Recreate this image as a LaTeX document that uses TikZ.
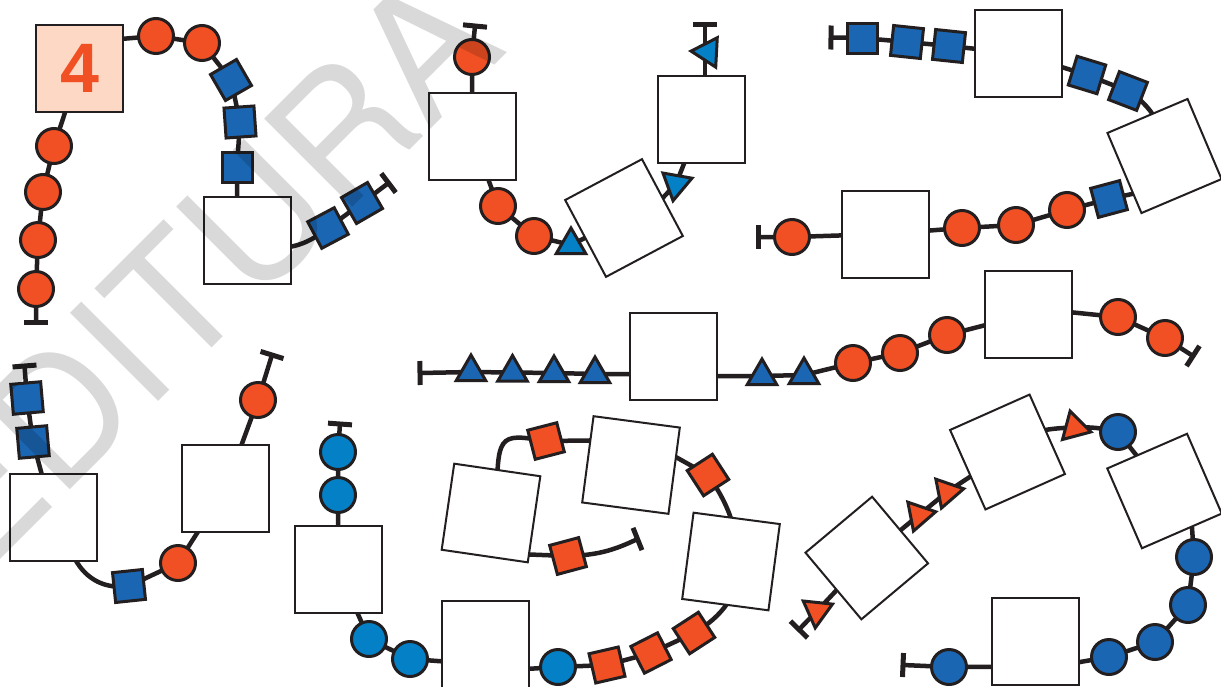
\documentclass[tikz,border=0pt]{standalone}
\usepackage{fontspec}
\newfontfamily\wmfont{TeX Gyre Heros}
\newfontfamily\numfont{Liberation Sans}
\usetikzlibrary{shapes.geometric,calc}
\pgfdeclarelayer{back}
\pgfdeclarelayer{bg}
\pgfsetlayers{back,bg,main}
\definecolor{ink}{HTML}{231F20}
\definecolor{orng}{HTML}{F05023}
\definecolor{blu}{HTML}{1A66B2}
\definecolor{lblu}{HTML}{0480C6}
\definecolor{peach}{HTML}{FDD9C5}
\tikzset{
 conn/.style={draw=ink, line width=4.5pt},
 capb/.style={draw=ink, line width=5pt},
 wbox/.style={rectangle, draw=ink, fill=white, line width=2pt, minimum size=87pt, inner sep=0pt},
 gcirc/.style={circle, draw=ink, line width=3pt, minimum size=35pt, inner sep=0pt},
 orcirc/.style={gcirc, fill=orng},
 blcirc/.style={gcirc, fill=blu},
 lbcirc/.style={gcirc, fill=lblu},
 gsq/.style={rectangle, draw=ink, line width=3pt, minimum size=30pt, inner sep=0pt},
 blsq/.style={gsq, fill=blu},
 orsq/.style={gsq, fill=orng},
 gtri/.style={regular polygon, regular polygon sides=3, draw=ink, line width=3pt, minimum size=34pt, inner sep=0pt},
 bltri/.style={gtri, fill=blu},
 lbtri/.style={gtri, fill=lblu},
 ortri/.style={gtri, fill=orng},
}
\newcommand\mkcap[2]{\draw[capb] ($(#1)!12pt!90:#2$) -- ($(#1)!12pt!-90:#2$);}
\begin{document}
\begin{tikzpicture}[x=1pt,y=-1pt]
\useasboundingbox (0,0) rectangle (1221,686);
\begin{pgfonlayer}{back}
\fill[white] (0,0) rectangle (1221,686);
\end{pgfonlayer}
% ---------- top left
\node[wbox, fill=peach, text=orng, font=\numfont\bfseries\fontsize{70}{70}\selectfont] (box4) at (79.5,68.5) {4};
\node[orcirc] (c1) at (156,36) {};
\node[orcirc] (c2) at (202,43) {};
\node[blsq, rotate=30] (bs1) at (231,80) {};
\node[blsq, rotate=4] (bs2) at (240,122) {};
\node[blsq] (bs3) at (237,167) {};
\node[wbox] (bxA) at (247.5,240.5) {};
\node[blsq, rotate=28] (bs4) at (328,228) {};
\node[blsq, rotate=30] (bs5) at (362,203) {};
\coordinate (k1) at (388.5,183);
\node[orcirc] (c3) at (54,146) {};
\node[orcirc] (c4) at (43,192) {};
\node[orcirc] (c5) at (38,240) {};
\node[orcirc] (c6) at (36,289) {};
\coordinate (k2) at (36,322);
% ---------- top middle
\coordinate (k3) at (475,26);
\node[orcirc] (c7) at (472,57) {};
\node[wbox] (bxB) at (472.5,136) {};
\node[orcirc] (c8) at (498,206) {};
\node[orcirc] (c9) at (534,236) {};
\node[lbtri] (lt1) at (571,245) {};
\node[wbox, rotate=28] (rbA) at (624,218) {};
\node[lbtri, rotate=50] (lt2) at (676,184) {};
\node[wbox] (bxC) at (701.5,119) {};
\node[lbtri, rotate=87] (lt3) at (708,52) {};
\coordinate (k4) at (705,24);
% ---------- top right
\coordinate (k5) at (831,37.5);
\node[blsq] (s6) at (862,38) {};
\node[blsq, rotate=-6] (s7) at (907,42) {};
\node[blsq, rotate=-6] (s8) at (949,46) {};
\node[wbox] (bxD) at (1018.5,53.5) {};
\node[blsq, rotate=-17] (s9) at (1087,75) {};
\node[blsq, rotate=-21] (s10) at (1128,91) {};
\node[wbox, rotate=23] (rbB) at (1164.5,156) {};
\node[blsq, rotate=15] (s11) at (1109,199) {};
\node[orcirc] (c10) at (1067,210) {};
\node[orcirc] (c11) at (1016,225) {};
\node[orcirc] (c12) at (962,228) {};
\node[wbox] (bxE) at (885.5,234) {};
\node[orcirc] (c13) at (792,237) {};
\coordinate (k6) at (758,237);
% ---------- middle row
\coordinate (k7) at (420,373);
\node[bltri] (t1) at (471,372) {};
\node[bltri] (t2) at (512.5,372.5) {};
\node[bltri] (t3) at (554,373) {};
\node[bltri] (t4) at (595,374) {};
\node[wbox] (bxF) at (673.5,356.5) {};
\node[bltri] (t5) at (762,376) {};
\node[bltri] (t6) at (804,375) {};
\node[orcirc] (c14) at (853,363) {};
\node[orcirc] (c15) at (900,353) {};
\node[orcirc] (c16) at (947,335) {};
\node[wbox] (bxG) at (1028.5,314) {};
\node[orcirc] (c17) at (1118,317) {};
\node[orcirc] (c18) at (1165,338) {};
\coordinate (k8) at (1193,356);
% ---------- bottom left
\coordinate (k9) at (24.5,366);
\node[blsq, rotate=5] (s12) at (27,398) {};
\node[blsq, rotate=5] (s13) at (33,442) {};
\node[wbox] (bxH) at (53.5,517.5) {};
\node[blsq, rotate=6] (s14) at (129,586) {};
\node[orcirc] (c19) at (178,563) {};
\node[wbox] (bxI) at (225.5,488.5) {};
\node[orcirc] (c20) at (258,400) {};
\coordinate (k10) at (272,355);
% ---------- bottom light blue chain
\coordinate (k11) at (340,424);
\node[lbcirc] (c21) at (338,452) {};
\node[lbcirc] (c22) at (338,495) {};
\node[wbox] (bxJ) at (338,569) {};
\node[lbcirc] (c23) at (369,639) {};
\node[lbcirc] (c24) at (410,659) {};
\node[wbox] (bxK) at (485.5,644.5) {};
\node[lbcirc] (c25) at (558,667) {};
\node[orsq, rotate=13] (os1) at (607,665) {};
\node[orsq, rotate=27] (os2) at (651,653) {};
\node[orsq, rotate=33] (os3) at (694,633) {};
% ---------- bottom middle loop
\node[wbox, rotate=-8.3] (rbC) at (491,513) {};
\node[wbox, rotate=-7.5] (rbD) at (631,465) {};
\node[wbox, rotate=-7.5] (rbE) at (731,561.5) {};
\node[orsq, rotate=14.5] (os4) at (546,441) {};
\node[orsq, rotate=33] (os5) at (708,475) {};
\node[orsq, rotate=15] (os6) at (568,556) {};
\coordinate (k12) at (637.5,539);
\coordinate (k12d) at (615,548);
% ---------- bottom right
\coordinate (k13) at (799,629.5);
\node[ortri, rotate=54] (ot1) at (817,611) {};
\node[wbox, rotate=40] (rbF) at (866.75,558) {};
\node[ortri, rotate=41] (ot2) at (919,515) {};
\node[ortri, rotate=41] (ot3) at (947,492) {};
\node[wbox, rotate=24] (rbG) at (1007.5,452) {};
\node[ortri, rotate=15] (ot4) at (1074.5,427.5) {};
\node[blcirc] (c26) at (1118,432) {};
\node[wbox, rotate=23.5] (rbH) at (1164.5,491) {};
\node[blcirc] (c27) at (1194,557) {};
\node[blcirc] (c28) at (1188,605) {};
\node[blcirc] (c29) at (1155,642) {};
\node[blcirc] (c30) at (1109,657) {};
\node[wbox] (bxL) at (1035.5,641.7) {};
\node[blcirc] (c31) at (949,667) {};
\coordinate (k14) at (903,665);
% ---------- connectors
\begin{pgfonlayer}{bg}
\draw[conn] ($(box4.center)+(0,-26)$) -- (c1.center) -- (c2.center) -- (bs1.center) -- (bs2.center) -- (bs3.center) -- (bs3.center |- bxA.center);
\draw[conn] ($(bxA.center)+(20,8)$) to[bend right=20] (bs4.center) -- (bs5.center) -- (k1);
\draw[conn] (box4.center) -- (c3.center) -- (c4.center) -- (c5.center) -- (c6.center) -- (k2);
\draw[conn] (k3) -- (c7.center) -- (bxB.center) -- (c8.center) -- (c9.center) -- (lt1.center) -- (rbA.center);
\draw[conn] ($(rbA.center)+(10,10)$) -- (lt2.center) -- (bxC.center);
\draw[conn] (k4 |- bxC.center) -- (k4);
\draw[conn] (k5) -- (s6.center) -- (s7.center) -- (s8.center) -- (bxD.center) -- (s9.center) -- (s10.center) to[bend left=28] (rbB.center);
\draw[conn] ($(rbB.center)+(-5,32)$) -- (s11.center) -- (c10.center) -- (c11.center) -- (c12.center) -- (bxE.center) -- (c13.center) -- (k6);
\draw[conn] (k7) -- (t1.center) -- (t2.center) -- (t3.center) -- (t4.center) -- (t4.center -| bxF.center);
\draw[conn] (bxF.center |- t5.center) -- (t5.center) -- (t6.center) -- (c14.center) -- (c15.center) -- (c16.center) -- (bxG.center);
\draw[conn] ($(bxG.center)+(0,-6)$) -- (c17.center) -- (c18.center) -- (k8);
\draw[conn] (k9) -- (s12.center) -- (s13.center) -- (bxH.center);
\draw[conn] ($(bxH.south)+(21.5,-3)$) to[bend right=35] (s14.center) -- (c19.center) -- (bxI.center) -- (c20.center) -- (k10);
\draw[conn] (k11) -- (c21.center) -- (c22.center) -- (bxJ.center) -- (c23.center) -- (c24.center) -- ($(bxK.center)+(0,20)$);
\draw[conn] ($(bxK.center)+(0,27)$) -- (c25.center) -- (os1.center) -- (os2.center) -- (os3.center) to[bend right=25] ($(rbE.center)+(12,0)$);
\draw[conn] ($(rbC.center)+(6,0)$) .. controls ($(rbC.center)+(6,-80)$) .. (os4.center) -- ($(rbD.center)+(0,-25)$);
\draw[conn] ($(rbD.center)+(0,-33)$) -- (os5.center) to[bend left=15] ($(rbE.center)+(8,0)$);
\draw[conn] ($(rbC.center)+(0,40)$) -- (os6.center) to[bend right=12] (k12);
\draw[conn] (k13) -- (ot1.center) -- (rbF.center) -- (ot2.center) -- (ot3.center) -- (rbG.center);
\draw[conn] ($(rbG.center)+(10,-15)$) to[bend left=8] (ot4.center) to[bend left=8] (c26.center) -- (rbH.center);
\draw[conn] ($(rbH.center)+(25,0)$) -- (c27.center) -- (c28.center) -- (c29.center) -- (c30.center) -- ($(bxL.center)+(0,28)$);
\draw[conn] ($(bxL.center)+(0,25)$) -- (c31.center) -- (k14);
\end{pgfonlayer}
% ---------- cap bars
\mkcap{k1}{(bs5.center)}
\mkcap{k2}{(c6.center)}
\mkcap{k3}{(c7.center)}
\mkcap{k4}{(705,100)}
\mkcap{k5}{(s6.center)}
\mkcap{k6}{(c13.center)}
\mkcap{k7}{(t1.center)}
\mkcap{k8}{(c18.center)}
\mkcap{k9}{(s12.center)}
\mkcap{k10}{(c20.center)}
\mkcap{k11}{(c21.center)}
\mkcap{k12}{(k12d)}
\mkcap{k13}{(ot1.center)}
\mkcap{k14}{(c31.center)}
% ---------- watermark
\begin{scope}
\clip (0,0) rectangle (1221,686);
\node[text=black, text opacity=0.15, rotate=45, anchor=base west, inner sep=0pt, font=\wmfont\fontsize{171}{171}\selectfont] (wm) at (-21.5,581.5) {EDITURA};
\end{scope}
\end{tikzpicture}
\end{document}
